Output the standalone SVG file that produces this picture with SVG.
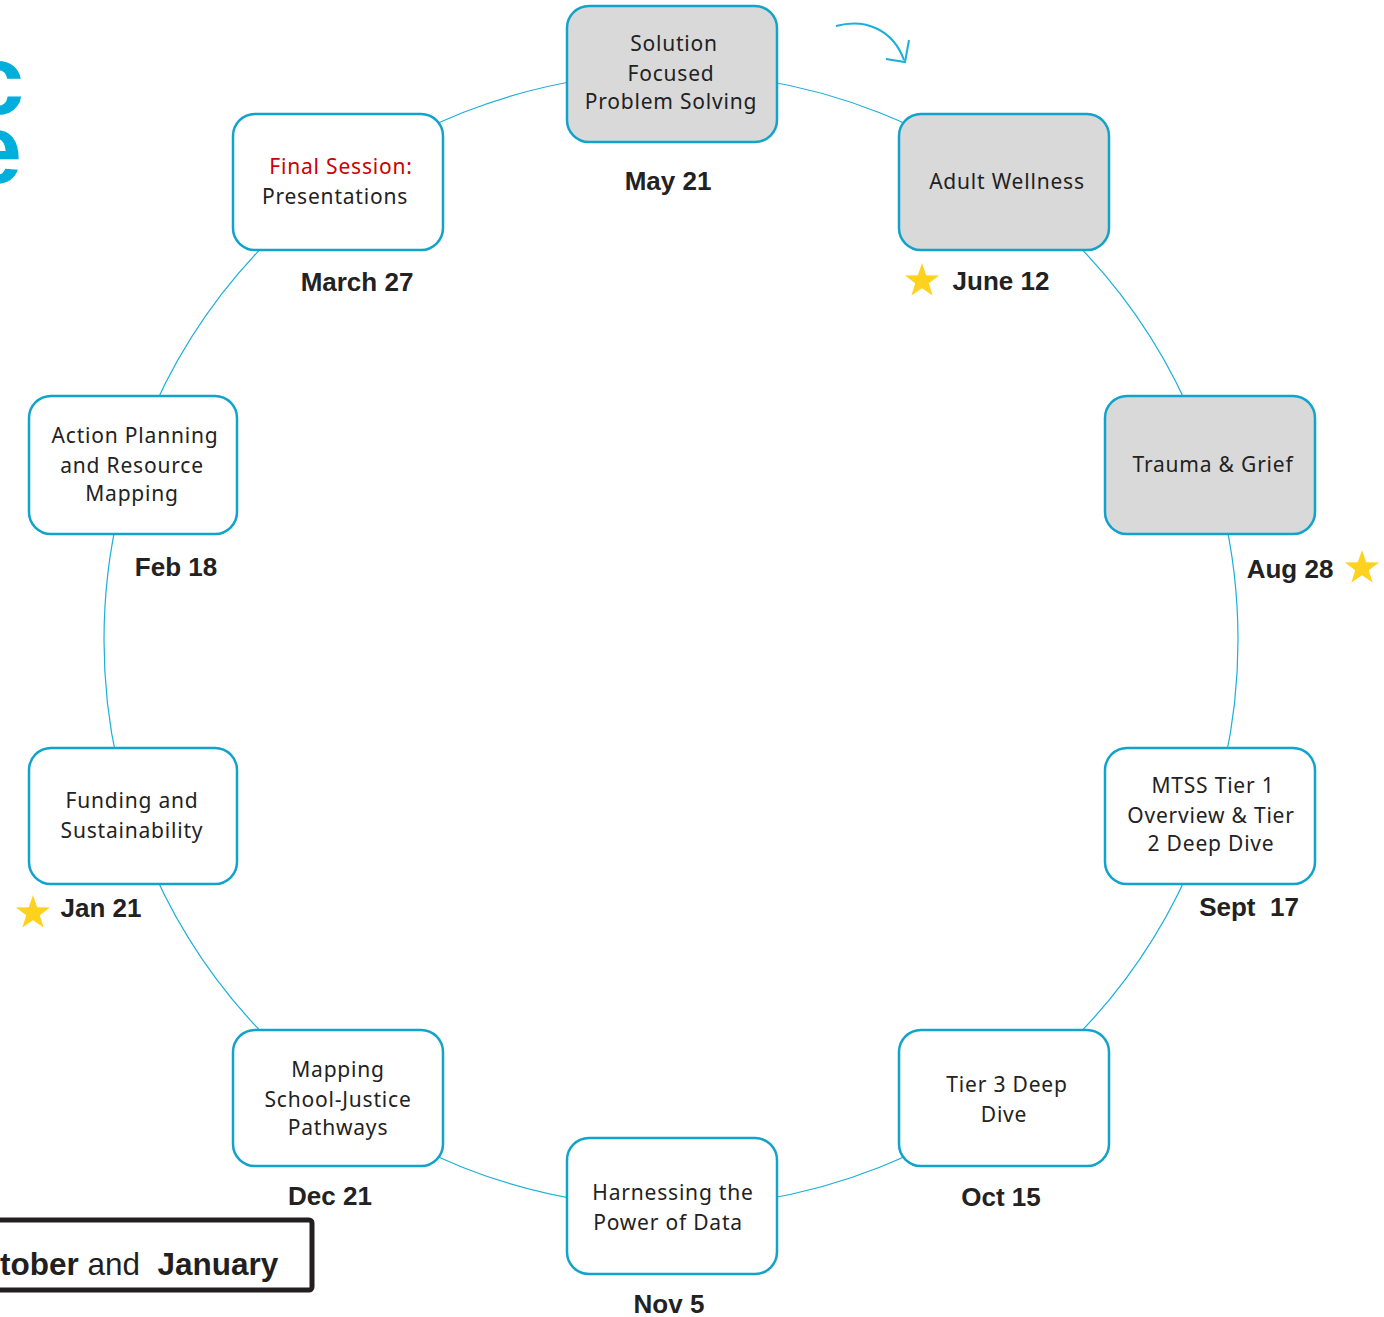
<svg xmlns="http://www.w3.org/2000/svg" width="1384" height="1317" viewBox="0 0 1384 1317">
<defs>
<style>
.node rect{stroke:#12a3cc;stroke-width:2.5}
.w{fill:#ffffff}
.g{fill:#d9d9d9}
.t{font-family:"Noto Sans","Open Sans",sans-serif;font-size:21px;letter-spacing:0.8px;fill:#222;text-anchor:middle}
.d{font-family:"Liberation Sans",Arial,sans-serif;font-size:26px;font-weight:bold;fill:#222;text-anchor:middle}
.star{fill:#ffd21f}
</style>
<polygon id="star" points="0,-18 4.2,-5.8 17.1,-5.6 6.8,2.2 10.6,14.6 0,7.2 -10.6,14.6 -6.8,2.2 -17.1,-5.6 -4.2,-5.8"/>
</defs>
<rect width="1384" height="1317" fill="#ffffff"/>
<text x="24" y="114" font-family="Liberation Sans,Arial,sans-serif" font-size="98" font-weight="bold" fill="#00aedb" text-anchor="end">c</text>
<text x="22" y="183" font-family="Liberation Sans,Arial,sans-serif" font-size="98" font-weight="bold" fill="#00aedb" text-anchor="end">e</text>
<g id="connectors">
<circle cx="671" cy="640" r="567" fill="none" stroke="#1ab0d8" stroke-width="1.2"/>
<path d="M836,26 C866,18 893,30 904,60" fill="none" stroke="#1ab0d8" stroke-width="2"/>
<path d="M886,59 L905,62 L909,40" fill="none" stroke="#1ab0d8" stroke-width="2"/>
</g>
<g id="n1" class="node"><rect class="g" x="567" y="6" width="210" height="136" rx="22"/>
<text class="t" x="674" y="51">Solution</text><text class="t" x="671" y="81">Focused</text><text class="t" x="671" y="109">Problem Solving</text></g>
<g id="n2" class="node"><rect class="g" x="899" y="114" width="210" height="136" rx="22"/>
<text class="t" x="1007" y="189">Adult Wellness</text></g>
<g id="n3" class="node"><rect class="g" x="1105" y="396" width="210" height="138" rx="22"/>
<text class="t" x="1213" y="472">Trauma &amp; Grief</text></g>
<g id="n4" class="node"><rect class="w" x="1105" y="748" width="210" height="136" rx="22"/>
<text class="t" x="1213" y="793">MTSS Tier 1</text><text class="t" x="1211" y="823">Overview &amp; Tier</text><text class="t" x="1211" y="851">2 Deep Dive</text></g>
<g id="n5" class="node"><rect class="w" x="899" y="1030" width="210" height="136" rx="22"/>
<text class="t" x="1007" y="1092">Tier 3 Deep</text><text class="t" x="1004" y="1122">Dive</text></g>
<g id="n6" class="node"><rect class="w" x="567" y="1138" width="210" height="136" rx="22"/>
<text class="t" x="673" y="1200">Harnessing the</text><text class="t" x="668" y="1230">Power of Data</text></g>
<g id="n7" class="node"><rect class="w" x="233" y="1030" width="210" height="136" rx="22"/>
<text class="t" x="338" y="1077">Mapping</text><text class="t" x="338" y="1107">School-Justice</text><text class="t" x="338" y="1135">Pathways</text></g>
<g id="n8" class="node"><rect class="w" x="29" y="748" width="208" height="136" rx="22"/>
<text class="t" x="132" y="808">Funding and</text><text class="t" x="132" y="838">Sustainability</text></g>
<g id="n9" class="node"><rect class="w" x="29" y="396" width="208" height="138" rx="22"/>
<text class="t" x="135" y="443">Action Planning</text><text class="t" x="132" y="473">and Resource</text><text class="t" x="132" y="501">Mapping</text></g>
<g id="n10" class="node"><rect class="w" x="233" y="114" width="210" height="136" rx="22"/>
<text class="t" x="341" y="174" style="fill:#cc0000">Final Session:</text><text class="t" x="335" y="204">Presentations</text></g>
<g id="labels">
<text class="d" x="668" y="190">May 21</text>
<text class="d" x="1001" y="290">June 12</text>
<text class="d" x="1290" y="578">Aug 28</text>
<text class="d" x="1249" y="916" xml:space="preserve">Sept  17</text>
<text class="d" x="1001" y="1206">Oct 15</text>
<text class="d" x="669" y="1313">Nov 5</text>
<text class="d" x="330" y="1205">Dec 21</text>
<text class="d" x="101" y="917">Jan 21</text>
<text class="d" x="176" y="576">Feb 18</text>
<text class="d" x="357" y="291">March 27</text>
</g>
<use href="#star" class="star" x="922" y="281"/>
<use href="#star" class="star" x="1362" y="568"/>
<use href="#star" class="star" x="33" y="913"/>
<g id="legend">
<rect x="-20" y="1220" width="332" height="70" rx="3" fill="#ffffff" stroke="#231f20" stroke-width="5"/>
<text x="0" y="1275" font-family="Liberation Sans,Arial,sans-serif" font-size="31.5" fill="#231f20" xml:space="preserve"><tspan font-weight="bold">tober</tspan> and  <tspan font-weight="bold">January</tspan></text>
</g>
</svg>
